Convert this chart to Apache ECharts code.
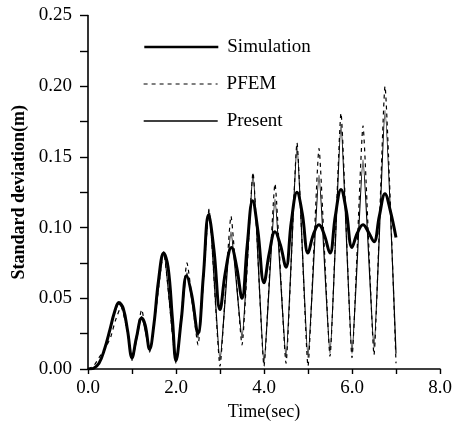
<!DOCTYPE html>
<html>
<head>
<meta charset="utf-8">
<script src="https://cdn.jsdelivr.net/npm/echarts@6/dist/echarts.min.js"></script>
<style>
html,body{margin:0;padding:0;background:#fff;}
#chart{width:455px;height:428px;}
</style>
</head>
<body>
<div id="chart"></div>
<script>
// ---- data ----
const seriesNames = ['Simulation', 'PFEM', 'Present'];

const simT = [0,0.125,0.25,0.375,0.5,0.6,0.7,0.8,0.9,1.0,1.1,1.22,1.3,1.4,1.5,1.6,1.72,1.82,1.92,2.0,2.12,2.24,2.36,2.5,2.62,2.74,2.86,3.0,3.12,3.26,3.38,3.5,3.62,3.74,3.86,4.0,4.12,4.25,4.37,4.5,4.62,4.75,4.87,5.0,5.12,5.25,5.37,5.5,5.62,5.75,5.87,6.0,6.12,6.25,6.37,6.5,6.62,6.75,6.87,7.0];
const simV = [0,0.0005,0.004,0.014,0.028,0.040,0.047,0.043,0.027,0.008,0.022,0.036,0.031,0.014,0.032,0.062,0.082,0.072,0.035,0.006,0.035,0.066,0.052,0.025,0.065,0.109,0.085,0.042,0.068,0.086,0.072,0.050,0.088,0.119,0.098,0.061,0.082,0.097,0.088,0.072,0.104,0.125,0.110,0.082,0.095,0.102,0.095,0.082,0.108,0.127,0.112,0.086,0.096,0.102,0.097,0.090,0.108,0.124,0.112,0.093];

const presT = [0,0.125,0.25,0.375,0.5,0.6,0.7,0.8,0.9,1.0,1.22,1.4,1.72,2.0,2.25,2.5,2.75,3.0,3.25,3.5,3.75,4.0,4.25,4.5,4.75,5.0,5.25,5.5,5.75,6.0,6.25,6.5,6.75,7.0];
const presV = [0,0.0005,0.004,0.014,0.028,0.040,0.046,0.042,0.026,0.006,0.037,0.013,0.083,0.005,0.068,0.022,0.113,0.006,0.097,0.022,0.138,0.004,0.120,0.008,0.158,0.008,0.137,0.011,0.173,0.011,0.148,0.015,0.183,0.011];

const pfemT = [0,0.125,0.25,0.4,0.52,0.62,0.75,0.9,1.0,1.22,1.4,1.72,2.0,2.25,2.5,2.75,3.0,3.25,3.5,3.75,4.0,4.25,4.5,4.75,5.0,5.25,5.5,5.75,6.0,6.25,6.5,6.75,7.0];
const pfemV = [0,0.002,0.008,0.015,0.023,0.034,0.044,0.026,0.008,0.042,0.012,0.082,0.004,0.075,0.017,0.113,0.002,0.108,0.017,0.139,0.002,0.131,0.004,0.160,0.002,0.156,0.009,0.181,0.008,0.172,0.010,0.200,0.004];

const xTitle = 'Time(sec)';
const yTitle = 'Standard deviation(m)';

// ---- chart ----
const pairs = (t, v) => t.map((x, i) => [x, v[i]]);
const FONT = '"Liberation Serif", "Times New Roman", serif';

const chart = echarts.init(document.getElementById('chart'), null, {renderer: 'canvas'});

function legendAt(name, top, lw) {
  return {
    data: [name], left: 143, top: top, orient: 'vertical',
    itemWidth: 74, itemHeight: 14, itemGap: 0, padding: 0,
    selectedMode: false,
    itemStyle: {opacity: 0},
    lineStyle: {width: lw},
    textStyle: {fontFamily: FONT, fontSize: 19, color: '#000', lineHeight: 20, padding: [0, 0, 0, 4]}
  };
}

chart.setOption({
  animation: false,
  backgroundColor: '#fff',
  grid: {left: 88, right: 15, top: 15.5, bottom: 59},
  legend: [legendAt(seriesNames[0], 37, 2.6), legendAt(seriesNames[1], 74, 1.2), legendAt(seriesNames[2], 111, 1.4)],
  xAxis: {
    type: 'value', min: 0, max: 8, interval: 1,
    name: xTitle, nameLocation: 'middle', nameGap: 34,
    nameTextStyle: {fontFamily: FONT, fontSize: 18, color: '#000'},
    axisLine: {lineStyle: {color: '#000', width: 1.6}},
    axisTick: {length: 5, lineStyle: {color: '#000', width: 1.4}},
    axisLabel: {
      fontFamily: FONT, fontSize: 19, color: '#000', margin: 10,
      formatter: v => (Math.round(v) % 2 === 0 ? v.toFixed(1) : '')
    },
    splitLine: {show: false}
  },
  yAxis: {
    type: 'value', min: 0, max: 0.25, interval: 0.025,
    name: yTitle, nameLocation: 'middle', nameRotate: 90, nameGap: 59,
    nameTextStyle: {fontFamily: FONT, fontSize: 18, fontWeight: 'bold', color: '#000'},
    axisLine: {show: true, lineStyle: {color: '#000', width: 1.6}},
    axisTick: {show: true, length: 8, lineStyle: {color: '#000', width: 1.4}},
    axisLabel: {
      fontFamily: FONT, fontSize: 19, color: '#000', margin: 16,
      formatter: v => (Math.round(v * 1000) % 50 === 0 ? v.toFixed(2) : '')
    },
    splitLine: {show: false}
  },
  series: [
    {
      name: seriesNames[1], type: 'line', data: pairs(pfemT, pfemV),
      symbol: 'none', smooth: 0.15,
      lineStyle: {color: '#000', width: 1.2, type: [4, 4]},
      itemStyle: {color: '#000'}, z: 2
    },
    {
      name: seriesNames[2], type: 'line', data: pairs(presT, presV),
      symbol: 'none', smooth: 0.15,
      lineStyle: {color: '#000', width: 1.2},
      itemStyle: {color: '#000'}, z: 3
    },
    {
      name: seriesNames[0], type: 'line', data: pairs(simT, simV),
      symbol: 'none', smooth: 0.4,
      lineStyle: {color: '#000', width: 3},
      itemStyle: {color: '#000'}, z: 4
    }
  ]
});
</script>
</body>
</html>
